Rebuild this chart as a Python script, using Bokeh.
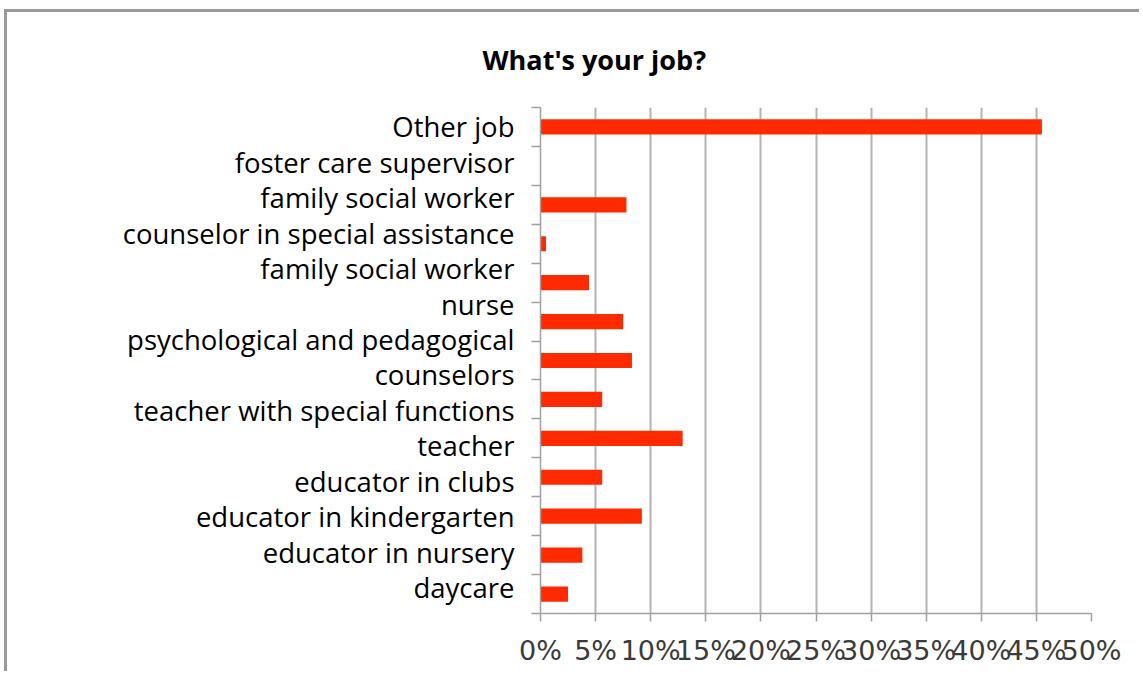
import numpy as np
from bokeh.plotting import figure
from bokeh.models import FixedTicker, PrintfTickFormatter, Range1d
from bokeh.embed import file_html
from bokeh.resources import INLINE

# ---- data ----
categories = [
    "Other job",
    "foster care supervisor",
    "family social worker",
    "counselor in special assistance",
    "family social worker",
    "nurse",
    "psychological and pedagogical\ncounselors",
    "teacher with special functions",
    "teacher",
    "educator in clubs",
    "educator in kindergarten",
    "educator in nursery",
    "daycare",
]
values = [45.5, 0.0, 7.8, 0.5, 4.4, 7.5, 8.3, 5.6, 12.9, 5.6, 9.2, 3.8, 2.5]
x_ticks = [0, 5, 10, 15, 20, 25, 30, 35, 40, 45, 50]
title_text = "What's your job?"

n = len(categories)
ypos = [n - 0.5 - i for i in range(n)]

p = figure(
    width=1135, height=662,
    x_range=Range1d(0, 50), y_range=Range1d(0, n),
    output_backend="svg", toolbar_location=None,
    min_border_left=533, min_border_right=51,
    min_border_top=95, min_border_bottom=61,
)
p.styles = {"margin-left": "7px", "margin-top": "12px",
            "box-shadow": "-3px -3px 0 0 #9a9a9a"}
p.outline_line_color = None
p.background_fill_color = "white"
p.border_fill_color = "white"

p.title.text = title_text
p.title.align = "left"
p.title.offset = -58
p.title.vertical_align = "top"
p.title.standoff = 56
p.title.text_font = "Open Sans"
p.title.text_font_style = "bold"
p.title.text_font_size = "27px"
p.title.text_color = "#000000"

p.hbar(y=ypos, left=0, right=values, height=0.39, fill_color="#ff2a00", line_color=None)

# grid
p.ygrid.grid_line_color = None
p.xgrid.ticker = FixedTicker(ticks=x_ticks)
p.xgrid.grid_line_color = "#b3b3b3"
p.xgrid.grid_line_width = 2

# x axis
p.xaxis.ticker = FixedTicker(ticks=x_ticks)
p.xaxis.formatter = PrintfTickFormatter(format="%d%%")
p.xaxis.major_label_text_font = "DejaVu Sans"
p.xaxis.major_label_text_font_size = "27px"
p.xaxis.major_label_text_color = "#3a3a3a"
p.xaxis.axis_line_color = "#a0a0a0"
p.xaxis.axis_line_width = 1.5
p.xaxis.major_tick_line_color = "#a0a0a0"
p.xaxis.major_tick_line_width = 1.5
p.xaxis.major_tick_out = 8
p.xaxis.major_tick_in = 0
p.xaxis.minor_tick_line_color = None
p.xaxis.major_label_standoff = 13

# y axis: label lines spread evenly, ticks at category boundaries
lines = [l for c in categories for l in c.split("\n")]
label_pos = [round(v, 4) for v in np.linspace(n - 0.5, 0.67, len(lines))]
p.yaxis.ticker = FixedTicker(ticks=label_pos, minor_ticks=list(range(0, n + 1)))
p.yaxis.major_label_overrides = {pos: txt for pos, txt in zip(label_pos, lines)}
p.yaxis.major_label_text_font = "Open Sans"
p.yaxis.major_label_text_font_size = "27.5px"
p.yaxis.major_label_text_color = "#000000"
p.yaxis.major_tick_line_color = None
p.yaxis.major_tick_out = 0
p.yaxis.major_tick_in = 0
p.yaxis.minor_tick_line_color = "#a0a0a0"
p.yaxis.minor_tick_line_width = 1.5
p.yaxis.minor_tick_out = 9
p.yaxis.minor_tick_in = 0
p.yaxis.axis_line_color = "#a0a0a0"
p.yaxis.axis_line_width = 1.5
p.yaxis.major_label_standoff = 17

open("out.html", "w").write(file_html(p, INLINE))
